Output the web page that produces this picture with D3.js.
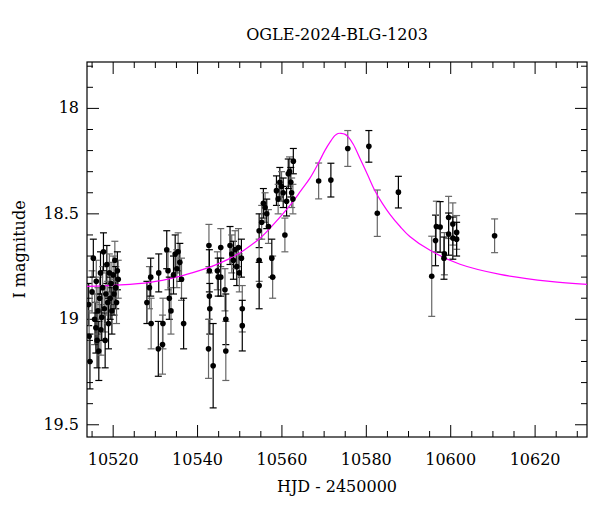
<!DOCTYPE html>
<html><head><meta charset="utf-8">
<script src="https://cdn.jsdelivr.net/npm/d3@7"></script>
<style>body{margin:0;background:#fff}text{font-family:"DejaVu Serif",serif}</style>
</head><body><svg id="c" width="600" height="512"></svg>
<script>
const title = "OGLE-2024-BLG-1203";
const xLabel = "HJD - 2450000";
const yLabel = "I magnitude";
const xTicks = [10520,10540,10560,10580,10600,10620];
const yTicks = [18,18.5,19,19.5];
// observations: [HJD-2450000, I mag, error]
const obs = [
[10514.2,18.93,0.1],[10514.3,19.08,0.12],[10514.5,19.2,0.13],[10515.0,18.87,0.1],[10515.3,18.71,0.09],
[10515.6,19.0,0.12],[10515.9,19.04,0.12],[10516.0,18.82,0.1],[10516.2,19.1,0.13],[10516.4,18.96,0.11],
[10516.6,19.15,0.14],[10516.8,18.9,0.1],[10517.0,18.78,0.1],[10517.1,19.05,0.12],[10517.3,18.99,0.11],
[10517.5,18.85,0.1],[10517.7,18.68,0.09],[10517.9,18.95,0.11],[10518.1,19.1,0.13],[10518.3,18.88,0.1],
[10518.5,18.74,0.09],[10518.7,18.92,0.1],[10518.9,19.02,0.12],[10519.1,18.78,0.09],[10519.3,18.9,0.1],
[10519.5,18.83,0.1],[10519.7,18.96,0.11],[10520.0,18.79,0.09],[10520.2,18.88,0.1],[10520.4,18.72,0.09],
[10520.6,18.85,0.1],[10520.8,18.92,0.1],[10521.0,18.77,0.09],[10521.2,18.81,0.09],
[10528.0,18.92,0.1],[10528.6,18.85,0.1],[10528.9,18.8,0.09],[10529.0,19.02,0.12],[10530.7,19.14,0.13],
[10531.7,19.12,0.14],[10530.8,18.78,0.09],[10531.8,19.02,0.12],[10532.7,18.67,0.09],[10533.0,18.77,0.09],
[10533.3,18.9,0.1],[10533.7,18.96,0.11],[10534.7,18.69,0.09],[10535.4,18.68,0.09],[10535.8,18.73,0.09],
[10536.2,18.81,0.1],[10536.7,19.02,0.12],[10535.1,18.76,0.09],[10534.3,18.79,0.09],
[10542.7,18.65,0.1],[10542.8,18.77,0.1],[10542.8,18.89,0.11],[10542.9,18.95,0.12],[10542.6,19.14,0.14],
[10543.7,19.22,0.2],[10544.7,18.77,0.09],[10544.9,18.8,0.09],[10545.5,18.66,0.09],[10545.5,18.8,0.09],
[10546.5,18.86,0.1],[10546.7,19.0,0.12],[10546.7,19.15,0.14],[10547.7,18.65,0.09],[10548.1,18.69,0.09],
[10548.5,18.72,0.09],[10548.9,18.67,0.09],[10549.3,18.75,0.09],[10549.7,18.66,0.09],[10550.4,18.71,0.09],
[10550.6,18.95,0.11],[10550.6,19.03,0.12],[10549.9,18.78,0.09],
[10554.6,18.58,0.08],[10554.6,18.72,0.1],[10554.6,18.84,0.11],[10555.2,18.54,0.08],[10555.6,18.45,0.07],
[10556.0,18.47,0.07],[10556.4,18.5,0.07],[10556.8,18.56,0.08],[10557.6,18.71,0.09],[10557.8,18.8,0.1],
[10558.7,18.39,0.07],[10559.1,18.43,0.07],[10559.5,18.35,0.07],[10559.9,18.37,0.07],[10560.3,18.4,0.07],
[10560.7,18.6,0.08],[10561.1,18.44,0.07],[10561.8,18.3,0.07],[10562.1,18.35,0.07],[10562.3,18.4,0.07],
[10562.7,18.25,0.06],[10562.6,18.43,0.07],[10561.5,18.31,0.07],
[10568.7,18.344,0.085],[10571.6,18.34,0.08],[10575.6,18.19,0.085],[10580.6,18.18,0.075],[10582.6,18.497,0.11],
[10587.6,18.397,0.075],[10595.5,18.796,0.19],[10596.4,18.626,0.12],[10596.6,18.56,0.12],[10597.5,18.562,0.12],
[10598.5,18.689,0.1],[10598.4,18.71,0.1],[10599.5,18.517,0.1],[10599.5,18.596,0.1],[10600.5,18.548,0.1],
[10600.5,18.615,0.1],[10601.4,18.588,0.08],[10601.4,18.62,0.08],[10610.4,18.604,0.08]
];
// model curve points
const modelT = [10513.8,10521,10528.7,10535,10540.6,10544,10547.7,10551,10554.8,10558,10561.9,10564.5,10566.6,10568.5,10570.2,10571.4,10572.6,10573.3,10574,10575,10575.7,10576.9,10578.5,10580.3,10582,10583.8,10585.6,10588,10590.3,10595.1,10602.2,10611.7,10623.5,10632.3];
const modelM = [18.844,18.838,18.825,18.8,18.768,18.744,18.711,18.672,18.616,18.55,18.46,18.39,18.332,18.265,18.199,18.16,18.128,18.119,18.118,18.123,18.135,18.17,18.237,18.315,18.389,18.45,18.502,18.56,18.607,18.673,18.739,18.787,18.82,18.834];

const svg = d3.select("#c");
const L=87,R=587,T=62,B=437;
const x = d3.scaleLinear().domain([10513.8,10632.3]).range([L,R]);
const y = d3.scaleLinear().domain([17.78,19.558]).range([T,B]);

svg.append("rect").attr("x",L).attr("y",T).attr("width",R-L).attr("height",B-T).attr("fill","none").attr("stroke","#000").attr("stroke-width",1.2);

const g = svg.append("g");
function ticksX(vals,len){
  vals.forEach(v=>{const px=x(v);
    g.append("line").attr("x1",px).attr("x2",px).attr("y1",B).attr("y2",B-len).attr("stroke","#000");
    g.append("line").attr("x1",px).attr("x2",px).attr("y1",T).attr("y2",T+len).attr("stroke","#000");});
}
function ticksY(vals,len){
  vals.forEach(v=>{const py=y(v);
    g.append("line").attr("y1",py).attr("y2",py).attr("x1",L).attr("x2",L+len).attr("stroke","#000");
    g.append("line").attr("y1",py).attr("y2",py).attr("x1",R).attr("x2",R-len).attr("stroke","#000");});
}
const xMinor = d3.range(10515,10632,5).filter(v=>!xTicks.includes(v));
const yMinor = d3.range(17.8,19.56,0.1).map(v=>+v.toFixed(1)).filter(v=>!yTicks.includes(v));
ticksX(xTicks,12); ticksX(xMinor,6); ticksY(yTicks,12); ticksY(yMinor,6);

xTicks.forEach(v=>svg.append("text").attr("x",x(v)).attr("y",B+28).attr("text-anchor","middle").attr("font-size",16).text(v));
yTicks.forEach(v=>svg.append("text").attr("x",L-8).attr("y",y(v)+5).attr("text-anchor","end").attr("font-size",16).text(v));
svg.append("text").attr("x",337).attr("y",B+55).attr("text-anchor","middle").attr("font-size",16).text(xLabel);
svg.append("text").attr("transform",`translate(25,${(T+B)/2}) rotate(-90)`).attr("text-anchor","middle").attr("font-size",16).text(yLabel);
svg.append("text").attr("x",337).attr("y",40).attr("text-anchor","middle").attr("font-size",16).text(title);

svg.append("clipPath").attr("id","cp").append("rect").attr("x",L).attr("y",T).attr("width",R-L).attr("height",B-T);
const pg = svg.append("g").attr("clip-path","url(#cp)");
obs.forEach((d,i)=>{
  const c = i%2 ? "#666" : "#000";
  const px=x(d[0]);
  pg.append("line").attr("x1",px).attr("x2",px).attr("y1",y(d[1]-d[2])).attr("y2",y(d[1]+d[2])).attr("stroke",c).attr("stroke-width",1.2);
  [d[1]-d[2],d[1]+d[2]].forEach(m=>pg.append("line").attr("x1",px-3.5).attr("x2",px+3.5).attr("y1",y(m)).attr("y2",y(m)).attr("stroke",c).attr("stroke-width",1.2));
});
const line = d3.line().x(d=>x(d[0])).y(d=>y(d[1])).curve(d3.curveCatmullRom);
pg.append("path").datum(modelT.map((t,i)=>[t,modelM[i]])).attr("d",line).attr("fill","none").attr("stroke","#ff00ff").attr("stroke-width",1.2);
obs.forEach(d=>pg.append("circle").attr("cx",x(d[0])).attr("cy",y(d[1])).attr("r",2.8).attr("fill","#000"));
</script></body></html>
